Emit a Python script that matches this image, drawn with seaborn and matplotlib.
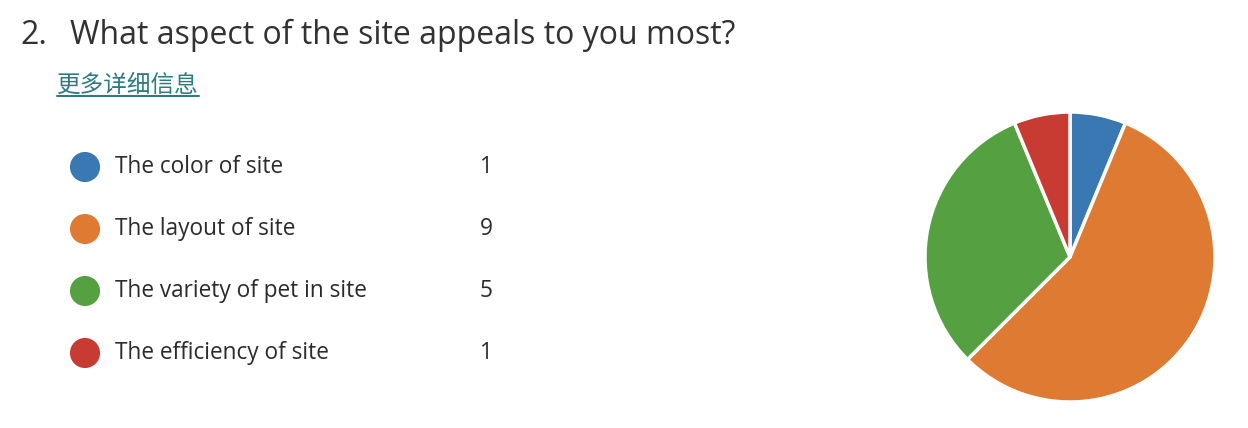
import matplotlib
matplotlib.use("Agg")
import matplotlib.pyplot as plt
import seaborn as sns
import pandas as pd

# Survey data
options = ["The color of site", "The layout of site",
           "The variety of pet in site", "The efficiency of site"]
counts = [1, 9, 5, 1]
colors = ["#3a78b4", "#de7a31", "#55a041", "#c73b33"]

title_num = "2."
title = "What aspect of the site appeals to you most?"
link_text = "更多详细信息"

sns.set_theme(style="white")
plt.rcParams['font.family'] = ['Open Sans', 'Noto Sans CJK SC', 'DejaVu Sans']

W, H = 1248, 428
fig = plt.figure(figsize=(W / 100, H / 100), dpi=100)
fig.patch.set_facecolor("white")

# Title and link
fig.text(20 / W, 1 - 35 / H, title_num, fontsize=23, color="#323232", va="center", ha="left")
fig.text(70 / W, 1 - 35 / H, title, fontsize=23, color="#323232", va="center", ha="left")
link = fig.text(57 / W, 1 - 85 / H, link_text, fontsize=17, color="#2e7a80",
                va="center", ha="left", family=['Noto Sans CJK SC', 'DejaVu Sans'])
fig.canvas.draw()
bb = link.get_window_extent()
fig.add_artist(plt.Line2D([bb.x0 / W, bb.x1 / W], [(bb.y0 + 1) / H, (bb.y0 + 1) / H],
                          color="#2e7a80", linewidth=1.5))

# Legend list
df = pd.DataFrame({"option": options, "count": counts, "row": range(len(options))})
ax_leg = fig.add_axes([0, 44 / H, 1, 248 / H])
sns.scatterplot(data=df, x=[85] * len(df), y="row", hue="option", palette=colors,
                s=470, edgecolor="none", legend=False, ax=ax_leg)
ax_leg.set_xlim(0, W)
ax_leg.set_ylim(len(options) - 0.5, -0.5)
for _, r in df.iterrows():
    ax_leg.text(115, r["row"], r["option"], fontsize=16.3, color="#2b2b2b", va="center", ha="left")
    ax_leg.text(493, r["row"], str(r["count"]), fontsize=16.3, color="#2b2b2b", va="center", ha="right")
ax_leg.axis("off")

# Pie
ax_pie = fig.add_axes([925 / W, 26 / H, 290 / W, 290 / H])
ax_pie.pie(df["count"], colors=colors, startangle=90, counterclock=False,
           wedgeprops=dict(edgecolor="white", linewidth=2.5))
ax_pie.set_xlim(-1.0, 1.0)
ax_pie.set_ylim(-1.0, 1.0)
ax_pie.set_aspect("equal")

fig.savefig("out.png", dpi=100, facecolor="white")
